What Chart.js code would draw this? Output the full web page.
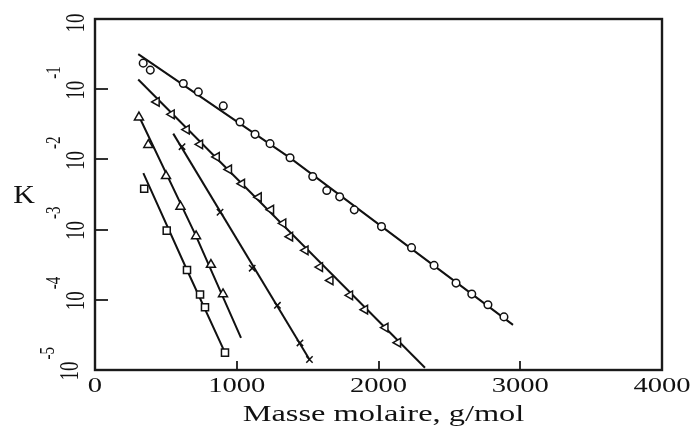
<!DOCTYPE html>
<html><head><meta charset="utf-8">
<script src="https://cdn.jsdelivr.net/npm/chart.js@4"></script>
<style>html,body{margin:0;padding:0;background:#fff;} #wrap{width:694px;height:433px;}</style>
</head><body><div id="wrap"><canvas id="c" width="694" height="433"></canvas></div>
<script>
// ---- tick definitions ----
const xTicks = [0, 1000, 2000, 3000, 4000];
const xTickLabels = ["0", "1000", "2000", "3000", "4000"];
const yTicks = [1, 0.1, 0.01, 0.001, 0.0001, 0.00001];
const yTickBase = "10";
const yTickExp = ["", "-1", "-2", "-3", "-4", "-5"];
const xTitle = "Masse molaire, g/mol";
const yTitle = "K";

// ---- series: circles ----
const circleX = [340, 390, 623, 729, 905, 1023, 1129, 1235, 1376, 1536, 1635, 1726, 1829, 2021, 2233, 2392, 2547, 2658, 2772, 2885];
const circleK = [0.235, 0.187, 0.1206, 0.0915, 0.0578, 0.0341, 0.02276, 0.01676, 0.01057, 0.00571, 0.00361, 0.00293, 0.00191, 0.001104, 0.000553, 0.000309, 0.000173, 0.0001206, 0.0000849, 0.0000571];
const circleLineX = [305, 1376, 2949];
const circleLineK = [0.316, 0.0105, 0.0000439];

// ---- series: left triangles ----
const triLX = [435, 541, 647, 741, 859, 945, 1037, 1155, 1242, 1328, 1376, 1485, 1587, 1661, 1799, 1905, 2049, 2138];
const triLK = [0.0659, 0.0439, 0.02656, 0.01638, 0.01086, 0.0072, 0.0045, 0.00289, 0.00192, 0.00123, 0.000794, 0.000506, 0.000293, 0.000189, 0.000116, 0.0000724, 0.0000402, 0.0000245];
const triLLineX = [305, 2328];
const triLLineK = [0.1377, 0.00001078];

// ---- series: crosses ----
const crossX = [614, 882, 1109, 1287, 1446, 1513];
const crossK = [0.01518, 0.001766, 0.000282, 0.0000834, 0.0000243, 0.0000141];
const crossLineX = [552, 1513];
const crossLineK = [0.02328, 0.0000141];

// ---- series: up triangles ----
const triUX = [310, 376, 501, 603, 713, 818, 903];
const triUK = [0.0398, 0.0161, 0.00581, 0.00213, 0.000807, 0.000316, 0.0001206];
const triULineX = [307, 713, 1030];
const triULineK = [0.04252, 0.000807, 0.0000286];

// ---- series: squares ----
const squareX = [347, 506, 649, 741, 776, 917];
const squareK = [0.00381, 0.000968, 0.000266, 0.0001191, 0.0000782, 0.00001767];
const squareLineX = [341, 649, 917];
const squareLineK = [0.00637, 0.000266, 0.00001767];

const pts = (xs, ys) => xs.map((v, i) => ({x: v, y: ys[i]}));
const INK = '#111';

function markerSet(xs, ys, style, r, rot) {
  return {type: 'scatter', data: pts(xs, ys), showLine: false, order: 0,
    pointStyle: style, pointRadius: r, pointRotation: rot || 0,
    pointBorderColor: INK, pointBackgroundColor: '#fff', pointBorderWidth: 1.5};
}
function lineSet(xs, ys) {
  return {type: 'scatter', data: pts(xs, ys), showLine: true, order: 1,
    borderColor: INK, borderWidth: 2, pointRadius: 0, tension: 0};
}

function sText(ctx, txt, x, y, size, sx, align, baseline) {
  ctx.save(); ctx.translate(x, y); ctx.scale(sx, 1);
  ctx.font = size + 'px "Liberation Serif", "Times New Roman", serif';
  ctx.textAlign = align; ctx.textBaseline = baseline;
  ctx.fillText(txt, 0, 0); ctx.restore();
}

const deco = {
  id: 'deco',
  afterDraw(chart) {
    const {ctx, chartArea: a, scales: {x, y}} = chart;
    ctx.save();
    ctx.strokeStyle = '#1a1a1a'; ctx.lineWidth = 2.4;
    ctx.strokeRect(a.left, a.top, a.right - a.left, a.bottom - a.top);
    ctx.lineWidth = 1.8;
    yTicks.forEach(v => {
      const py = Math.round(y.getPixelForValue(v));
      if (py > a.top + 2 && py < a.bottom - 2) {
        ctx.beginPath(); ctx.moveTo(a.left, py); ctx.lineTo(a.left + 13, py); ctx.stroke();
      }
    });
    xTicks.forEach(v => {
      const px = Math.round(x.getPixelForValue(v));
      if (px > a.left + 2 && px < a.right - 2) {
        ctx.beginPath(); ctx.moveTo(px, a.bottom); ctx.lineTo(px, a.bottom - 9); ctx.stroke();
      }
    });
    ctx.fillStyle = INK;
    xTicks.forEach((v, i) => {
      sText(ctx, xTickLabels[i], x.getPixelForValue(v), 392, 22, 1.3, 'center', 'alphabetic');
    });
    sText(ctx, xTitle, (a.left + a.right) / 2 + 5, 421, 24, 1.35, 'center', 'alphabetic');
    sText(ctx, yTitle, 24, 203, 26, 1.15, 'center', 'alphabetic');
    const sx = 1.45;
    yTicks.forEach((v, i) => {
      let cy = y.getPixelForValue(v) + 1;
      if (cy < 23) cy = 23;
      const bx = (i === yTicks.length - 1) ? 78 : 84;
      ctx.save();
      ctx.translate(bx, cy); ctx.scale(sx, 1); ctx.rotate(-Math.PI / 2);
      ctx.font = '19px "Liberation Serif", "Times New Roman", serif';
      ctx.textAlign = 'center'; ctx.textBaseline = 'alphabetic';
      const w = ctx.measureText(yTickBase).width;
      ctx.fillText(yTickBase, 0, 0);
      if (yTickExp[i]) {
        ctx.font = '15px "Liberation Serif", "Times New Roman", serif';
        ctx.textAlign = 'left';
        ctx.fillText(yTickExp[i], w / 2 + 2, -24 / sx);
      }
      ctx.restore();
    });
    ctx.restore();
  }
};

new Chart(document.getElementById('c'), {
  type: 'scatter',
  data: {datasets: [
    markerSet(circleX, circleK, 'circle', 3.8),
    markerSet(triLX, triLK, 'triangle', 5, -90),
    markerSet(crossX, crossK, 'crossRot', 4.5),
    markerSet(triUX, triUK, 'triangle', 5.2),
    markerSet(squareX, squareK, 'rect', 5),
    lineSet(circleLineX, circleLineK),
    lineSet(triLLineX, triLLineK),
    lineSet(crossLineX, crossLineK),
    lineSet(triULineX, triULineK),
    lineSet(squareLineX, squareLineK)
  ]},
  options: {
    responsive: false, animation: false,
    layout: {padding: {left: 95, top: 19, right: 32, bottom: 63}},
    plugins: {legend: {display: false}, tooltip: {enabled: false}},
    scales: {
      x: {type: 'linear', min: 0, max: 4000, display: false},
      y: {type: 'logarithmic', min: 0.00001, max: 1, display: false}
    }
  },
  plugins: [deco]
});
</script>
</body></html>
